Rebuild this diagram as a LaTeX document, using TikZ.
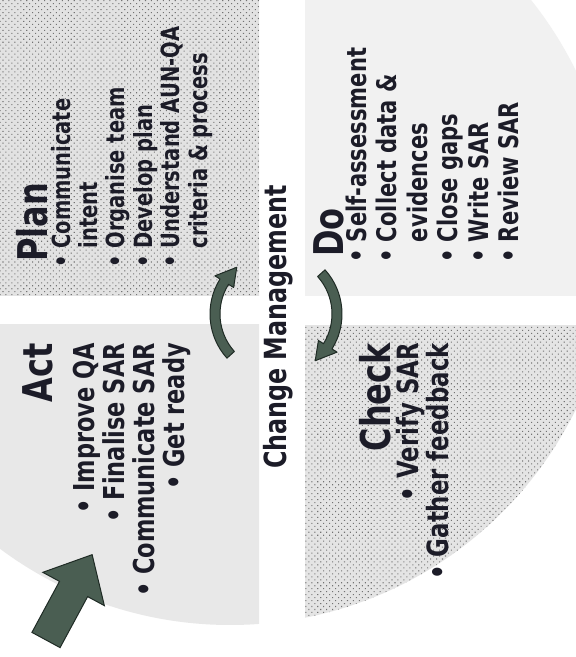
\documentclass[tikz,border=0pt]{standalone}
\usepackage{fontspec}
\newfontfamily\pf{DejaVu Sans}[FakeStretch=0.78]
\usetikzlibrary{patterns.meta}
\definecolor{ink}{HTML}{1C1C28}
\definecolor{arr}{HTML}{4A5E52}
\definecolor{arrline}{HTML}{1F2B25}
\definecolor{qplan}{HTML}{E2E2E2}
\definecolor{qdo}{HTML}{F1F1F1}
\definecolor{qact}{HTML}{E8E8E8}
\definecolor{qcheck}{HTML}{E4E4E4}
\begin{document}
\begin{tikzpicture}[x=1pt,y=1pt,
  txt/.style={rotate=90, inner sep=0pt, text=ink},
  ttl/.style={txt, font=\pf\bfseries\fontsize{41}{43}\selectfont},
  halftone/.style={preaction={fill=#1}, pattern={Dots[distance=4.2pt, radius=0.75pt, angle=45]}, pattern color=black!55},
  cyc/.style={fill=arr, draw=arrline, line width=1pt, line join=round},
  bigarrow/.style={fill=arr, draw=arrline, line width=1pt, line join=miter}]
\useasboundingbox (0,0) rectangle (576,657);
\fill[white] (0,0) rectangle (576,657);
% quadrants
\begin{scope}
  \clip (0,361) rectangle (259,657);
  \fill[halftone=qplan] (230,417) circle[radius=385];
\end{scope}
\begin{scope}
  \clip (305,361) rectangle (576,657);
  \fill[qdo] (230,417) circle[radius=385];
\end{scope}
\begin{scope}
  \clip (0,0) rectangle (259,332);
  \fill[qact] (230,417) circle[radius=385];
\end{scope}
\begin{scope}
  \clip (305,0) rectangle (576,331);
  \fill[halftone=qcheck] (230,417) circle[radius=385];
\end{scope}
% titles
\node[ttl, anchor=base west] (plan) at (48,395) {Plan};
\node[ttl, anchor=base west] (do) at (343,400) {Do};
\node[ttl, anchor=base east] (act) at (53,314) {Act};
\node[ttl, anchor=base east] (check) at (390,314) {Check};
% lists
\node[txt, font=\pf\bfseries\fontsize{25}{27.5}\selectfont, anchor=base west] (planlist) at (70,389)
  {\begin{tabular}[t]{@{}l@{\ }l@{}}•&Communicate\\ &intent\\ •&Organise team\\ •&Develop plan\\ •&Understand AUN-QA\\ &criteria \& process\end{tabular}};
\node[txt, font=\pf\bfseries\fontsize{27}{30.5}\selectfont, anchor=base west] (dolist) at (366,394)
  {\begin{tabular}[t]{@{}l@{\ }l@{}}•&Self-assessment\\ •&Collect data \&\\ &evidences\\ •&Close gaps\\ •&Write SAR\\ •&Review SAR\end{tabular}};
\node[txt, font=\pf\bfseries\fontsize{28.8}{28}\selectfont, anchor=base east] (actlist) at (94,314)
  {\begin{tabular}[t]{@{}r@{}}•\ Improve QA\\ •\ Finalise SAR\\ •\ Communicate SAR\\ •\ Get ready\end{tabular}};
\node[txt, font=\pf\bfseries\fontsize{29.3}{29}\selectfont, anchor=base east] (checklist) at (418,314)
  {\begin{tabular}[t]{@{}r@{}}•\ Verify SAR\\ •\ Gather feedback\end{tabular}};
% centre
\node[txt, font=\pf\bfseries\fontsize{30.5}{32}\selectfont] (cm) at (278,330) {Change Management};
\coordinate (cyc) at (276,343);
\begin{scope}[shift={(cyc)}]
  \draw[cyc] (222:66) arc[start angle=222, end angle=148, radius=66] -- (148:72) -- (130:61) -- (148:50) -- (148:56) arc[start angle=148, end angle=222, radius=56] -- cycle;
  \draw[cyc] (42:66) arc[start angle=42, end angle=-32, radius=66] -- (-32:72) -- (-50:61) -- (-32:50) -- (-32:56) arc[start angle=-32, end angle=42, radius=56] -- cycle;
\end{scope}
% big arrow
\coordinate (tail) at (46,17);
\begin{scope}[shift={(tail)}, rotate=61.6]
  \draw[bigarrow] (0,-16) -- (58,-16) -- (58,-35) -- (97,0) -- (58,35) -- (58,16) -- (0,16) -- cycle;
\end{scope}
\end{tikzpicture}
\end{document}
